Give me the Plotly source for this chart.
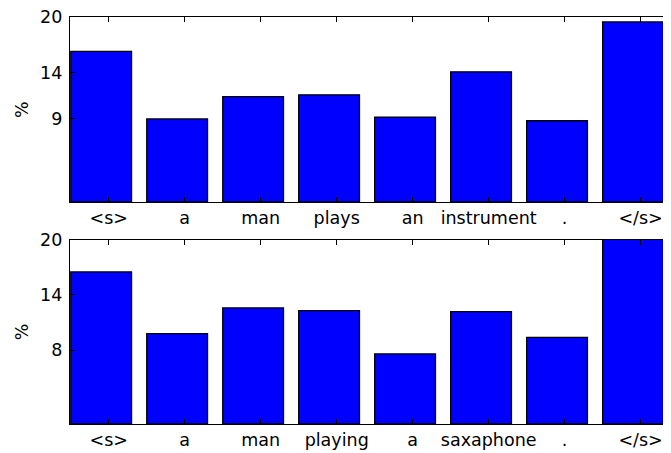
import plotly.graph_objects as go
from plotly.subplots import make_subplots

words_top = ["<s>", "a", "man", "plays", "an", "instrument", ".", "</s>"]
pct_top = [16.3, 9.0, 11.4, 11.6, 9.2, 14.1, 8.8, 19.5]
yticks_top = [9, 14, 20]

words_bottom = ["<s>", "a", "man", "playing", "a", "saxaphone", ".", "</s>"]
pct_bottom = [16.5, 9.8, 12.6, 12.3, 7.6, 12.2, 9.4, 20.5]
yticks_bottom = [8, 14, 20]

# page has an 8px body margin, so the figure is drawn 8px in from the corner
W, H = 663, 445
TOP = 6
FONT = dict(family="DejaVu Sans", size=17.5, color="black")

fig = make_subplots(rows=2, cols=1)

for row, (words, vals) in enumerate([(words_top, pct_top), (words_bottom, pct_bottom)], start=1):
    pos = list(range(len(words)))
    # bars start at each integer (edge aligned), ticks sit at i + 0.5
    fig.add_trace(
        go.Bar(
            x=[p + 0.4 for p in pos],
            y=vals,
            width=0.8,
            marker=dict(color="#0000ff", line=dict(color="black", width=1.3)),
            showlegend=False,
        ),
        row=row,
        col=1,
    )
    fig.update_xaxes(
        range=[-0.01, 7.9],
        tickvals=[p + 0.5 for p in pos],
        ticktext=[w.replace("<", "&lt;") for w in words],
        ticks="inside",
        ticklen=5,
        tickcolor="black",
        showline=True,
        linecolor="black",
        linewidth=1.3,
        mirror="ticks",
        showgrid=False,
        zeroline=False,
        automargin=False,
        ticklabeloverflow="allow",
        tickfont=FONT,
        row=row,
        col=1,
    )
    fig.update_yaxes(
        range=[0, 20],
        tickvals=yticks_top if row == 1 else yticks_bottom,
        ticks="inside",
        ticklen=5,
        tickcolor="black",
        ticklabelstandoff=3,
        ticklabeloverflow="allow",
        showline=True,
        linecolor="black",
        linewidth=1.3,
        showgrid=False,
        zeroline=False,
        automargin=False,
        tickfont=FONT,
        title=dict(text="%", font=FONT, standoff=6),
        row=row,
        col=1,
    )


def dom(top_px, bottom_px):
    ph = H - TOP
    return [(ph - (bottom_px - TOP)) / ph, (ph - (top_px - TOP)) / ph]


fig.update_layout(
    width=W,
    height=H,
    margin=dict(l=62, r=0, t=TOP, b=0, pad=0),
    paper_bgcolor="white",
    plot_bgcolor="white",
    font=FONT,
    yaxis=dict(domain=dom(9.3, 194)),
    yaxis2=dict(domain=dom(231.7, 416)),
)

fig.write_html("out.html")
